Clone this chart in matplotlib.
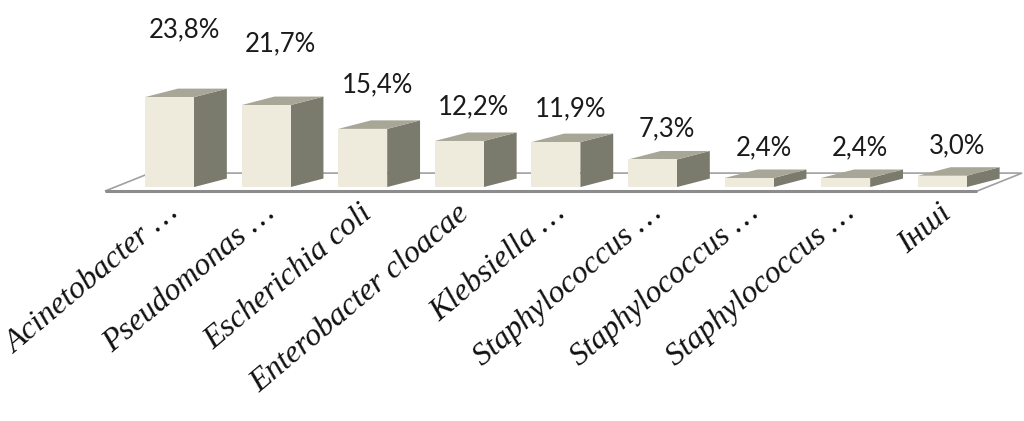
import matplotlib.pyplot as plt
from matplotlib.patches import Polygon, Rectangle

categories = ["Acinetobacter …", "Pseudomonas …", "Escherichia coli",
              "Enterobacter cloacae", "Klebsiella …", "Staphylococcus …",
              "Staphylococcus …", "Staphylococcus …", "Інші"]
values = [23.8, 21.7, 15.4, 12.2, 11.9, 7.3, 2.4, 2.4, 3.0]
value_labels = ["23,8%", "21,7%", "15,4%", "12,2%", "11,9%", "7,3%", "2,4%", "2,4%", "3,0%"]

front_c = "#EEEADC"
side_c = "#7B7B6D"
top_c = "#A8A697"

fig = plt.figure(figsize=(10.24, 4.21), dpi=100)
ax = fig.add_axes([0, 0, 1, 1])
ax.set_xlim(-1.755, 8.846)
ax.set_ylim(-61.9, 49.5)
ax.axis("off")

w = 0.507      # bar width
dx, dy = 0.34, 2.25   # depth offset

# floor
fx0, fx1 = -0.668, 8.36
fy = -1.06
floor = Polygon([(fx0, fy), (fx1, fy), (fx1 + 0.466, fy + 4.76), (fx0 + 0.466, fy + 4.76)],
                closed=True, facecolor="white", edgecolor="#a0a0a0", lw=1.2, zorder=1)
ax.add_patch(floor)
ax.plot([fx0, fx1], [fy, fy], color="#8c8c8c", lw=2.2, zorder=1.5, solid_capstyle="butt")

for i, v in enumerate(values):
    x = i - w / 2
    ax.add_patch(Polygon([(x + w, 0), (x + w + dx, dy), (x + w + dx, v + dy), (x + w, v)],
                         closed=True, facecolor=side_c, edgecolor="none", zorder=3))
    ax.add_patch(Polygon([(x, v), (x + w, v), (x + w + dx, v + dy), (x + dx, v + dy)],
                         closed=True, facecolor=top_c, edgecolor="none", zorder=3))
    ax.add_patch(Rectangle((x, 0), w, v, facecolor=front_c, edgecolor="none", zorder=4))

    ly = max(1.75 * v, v + 8)
    ax.text(i + 0.15, ly, value_labels[i], ha="center", va="center",
            fontsize=18.5, family="Lato", color="#1a1a1a")

    ax.text(i + 0.06, -6.0, categories[i], ha="right", va="center", rotation=40,
            rotation_mode="anchor", fontsize=23, family="Liberation Serif",
            style="italic", color="#111111")

fig.savefig("out.png", dpi=100)
